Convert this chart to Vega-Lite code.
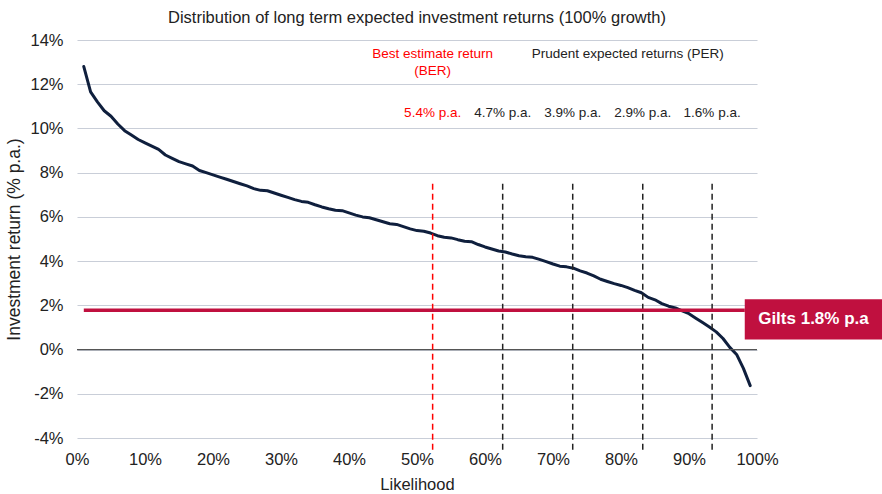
{
  "$schema": "https://vega.github.io/schema/vega-lite/v6.json",
  "width": 680,
  "height": 398,
  "autosize": "none",
  "padding": {"left": 77, "top": 40, "right": 125, "bottom": 56},
  "background": "white",
  "config": {
    "view": {"stroke": null},
    "font": "Liberation Sans",
    "axis": {"labelFont": "Liberation Sans", "titleFont": "Liberation Sans", "labelColor": "#222222", "titleColor": "#222222", "labelFontSize": 16.5, "titleFontSize": 16.5, "titleFontWeight": "normal", "domain": false, "ticks": false}
  },
  "title": {"text": "Distribution of long term expected investment returns (100% growth)", "fontSize": 16.5, "fontWeight": "normal", "color": "#222222", "anchor": "middle", "offset": 6, "font": "Liberation Sans"},
  "layer": [
    {
      "data": {"values": [
        {"likelihood": 1, "ret": 12.8}, {"likelihood": 2, "ret": 11.65}, {"likelihood": 3, "ret": 11.2}, {"likelihood": 4, "ret": 10.8}, {"likelihood": 5, "ret": 10.55},
        {"likelihood": 6, "ret": 10.2}, {"likelihood": 7, "ret": 9.9}, {"likelihood": 8, "ret": 9.7}, {"likelihood": 9, "ret": 9.5}, {"likelihood": 10, "ret": 9.35},
        {"likelihood": 11, "ret": 9.2}, {"likelihood": 12, "ret": 9.05}, {"likelihood": 13, "ret": 8.8}, {"likelihood": 14, "ret": 8.65}, {"likelihood": 15, "ret": 8.5},
        {"likelihood": 16, "ret": 8.4}, {"likelihood": 17, "ret": 8.3}, {"likelihood": 18, "ret": 8.1}, {"likelihood": 19, "ret": 8.0}, {"likelihood": 20, "ret": 7.9},
        {"likelihood": 21, "ret": 7.8}, {"likelihood": 22, "ret": 7.7}, {"likelihood": 23, "ret": 7.6}, {"likelihood": 24, "ret": 7.5}, {"likelihood": 25, "ret": 7.4},
        {"likelihood": 26, "ret": 7.28}, {"likelihood": 27, "ret": 7.2}, {"likelihood": 28, "ret": 7.18}, {"likelihood": 29, "ret": 7.08}, {"likelihood": 30, "ret": 6.98},
        {"likelihood": 31, "ret": 6.88}, {"likelihood": 32, "ret": 6.78}, {"likelihood": 33, "ret": 6.7}, {"likelihood": 34, "ret": 6.66}, {"likelihood": 35, "ret": 6.55},
        {"likelihood": 36, "ret": 6.45}, {"likelihood": 37, "ret": 6.37}, {"likelihood": 38, "ret": 6.3}, {"likelihood": 39, "ret": 6.28}, {"likelihood": 40, "ret": 6.18},
        {"likelihood": 41, "ret": 6.08}, {"likelihood": 42, "ret": 6.0}, {"likelihood": 43, "ret": 5.96}, {"likelihood": 44, "ret": 5.87}, {"likelihood": 45, "ret": 5.78},
        {"likelihood": 46, "ret": 5.69}, {"likelihood": 47, "ret": 5.66}, {"likelihood": 48, "ret": 5.56}, {"likelihood": 49, "ret": 5.46}, {"likelihood": 50, "ret": 5.38},
        {"likelihood": 51, "ret": 5.35}, {"likelihood": 52, "ret": 5.27}, {"likelihood": 53, "ret": 5.15}, {"likelihood": 54, "ret": 5.08}, {"likelihood": 55, "ret": 5.05},
        {"likelihood": 56, "ret": 4.97}, {"likelihood": 57, "ret": 4.9}, {"likelihood": 58, "ret": 4.88}, {"likelihood": 59, "ret": 4.75}, {"likelihood": 60, "ret": 4.64},
        {"likelihood": 61, "ret": 4.55}, {"likelihood": 62, "ret": 4.46}, {"likelihood": 63, "ret": 4.41}, {"likelihood": 64, "ret": 4.32}, {"likelihood": 65, "ret": 4.24},
        {"likelihood": 66, "ret": 4.2}, {"likelihood": 67, "ret": 4.17}, {"likelihood": 68, "ret": 4.08}, {"likelihood": 69, "ret": 3.98}, {"likelihood": 70, "ret": 3.87},
        {"likelihood": 71, "ret": 3.77}, {"likelihood": 72, "ret": 3.74}, {"likelihood": 73, "ret": 3.68}, {"likelihood": 74, "ret": 3.56}, {"likelihood": 75, "ret": 3.46},
        {"likelihood": 76, "ret": 3.33}, {"likelihood": 77, "ret": 3.18}, {"likelihood": 78, "ret": 3.08}, {"likelihood": 79, "ret": 2.98}, {"likelihood": 80, "ret": 2.9},
        {"likelihood": 81, "ret": 2.8}, {"likelihood": 82, "ret": 2.68}, {"likelihood": 83, "ret": 2.57}, {"likelihood": 84, "ret": 2.36}, {"likelihood": 85, "ret": 2.25},
        {"likelihood": 86, "ret": 2.08}, {"likelihood": 87, "ret": 1.96}, {"likelihood": 88, "ret": 1.88}, {"likelihood": 89, "ret": 1.75}, {"likelihood": 90, "ret": 1.62},
        {"likelihood": 91, "ret": 1.42}, {"likelihood": 92, "ret": 1.22}, {"likelihood": 93, "ret": 1.02}, {"likelihood": 94, "ret": 0.8}, {"likelihood": 95, "ret": 0.5},
        {"likelihood": 96, "ret": 0.1}, {"likelihood": 97, "ret": -0.22}, {"likelihood": 98, "ret": -0.85}, {"likelihood": 99, "ret": -1.63}
      ]},
      "mark": {"type": "line", "color": "#0F1F3D", "strokeWidth": 3, "strokeJoin": "round", "strokeCap": "round"},
      "encoding": {
        "x": {"field": "likelihood", "type": "quantitative", "scale": {"domain": [0, 100], "nice": false},
          "axis": {"title": "Likelihood", "values": [0,10,20,30,40,50,60,70,80,90,100], "labelExpr": "datum.value + '%'", "grid": false, "labelPadding": 13, "titlePadding": 9, "labelFlush": false}},
        "y": {"field": "ret", "type": "quantitative", "scale": {"domain": [-4, 14], "nice": false, "zero": false},
          "axis": {"title": "Investment return (% p.a.)", "titleFontSize": 17.5, "values": [-4,-2,0,2,4,6,8,10,12,14], "labelExpr": "datum.value + '%'", "grid": true, "gridColor": "#C9CED8", "gridWidth": 1.2, "labelPadding": 14, "titlePadding": 6}}
      }
    },
    {
      "data": {"values": [{"y": 0}]},
      "mark": {"type": "rule", "color": "#555555", "strokeWidth": 1.2},
      "encoding": {"y": {"field": "y", "type": "quantitative"}}
    },
    {
      "data": {"values": [
        {"x": 52.3, "kind": "BER"}, {"x": 62.6, "kind": "PER"}, {"x": 72.9, "kind": "PER"}, {"x": 83.2, "kind": "PER"}, {"x": 93.4, "kind": "PER"}
      ]},
      "mark": {"type": "rule", "strokeDash": [6, 4], "strokeWidth": 1.5},
      "encoding": {
        "x": {"field": "x", "type": "quantitative"},
        "y": {"datum": 7.5, "type": "quantitative"},
        "y2": {"datum": -4.55},
        "color": {"field": "kind", "type": "nominal", "scale": {"domain": ["BER", "PER"], "range": ["#FF0000", "#222222"]}, "legend": null}
      }
    },
    {
      "data": {"values": [{"x1": 1, "x2": 98.2, "y": 1.78}]},
      "mark": {"type": "rule", "color": "#C0103F", "strokeWidth": 3.5},
      "encoding": {
        "x": {"field": "x1", "type": "quantitative"},
        "x2": {"field": "x2"},
        "y": {"field": "y", "type": "quantitative"}
      }
    },
    {
      "data": {"values": [{"x1": 98.2, "x2": 118.5, "y1": 0.45, "y2": 2.27}]},
      "mark": {"type": "rect", "color": "#C0103F"},
      "encoding": {
        "x": {"field": "x1", "type": "quantitative"},
        "x2": {"field": "x2"},
        "y": {"field": "y1", "type": "quantitative"},
        "y2": {"field": "y2"}
      }
    },
    {
      "data": {"values": [{"x": 108.3, "y": 1.36, "label": "Gilts 1.8% p.a"}]},
      "mark": {"type": "text", "color": "white", "fontSize": 17, "fontWeight": "bold", "align": "center", "baseline": "middle"},
      "encoding": {
        "x": {"field": "x", "type": "quantitative"},
        "y": {"field": "y", "type": "quantitative"},
        "text": {"field": "label"}
      }
    },
    {
      "data": {"values": [
        {"x": 52.3, "y": 13.35, "label": "Best estimate return", "kind": "BER"},
        {"x": 52.3, "y": 12.62, "label": "(BER)", "kind": "BER"},
        {"x": 81.0, "y": 13.35, "label": "Prudent expected returns (PER)", "kind": "PER"},
        {"x": 52.3, "y": 10.68, "label": "5.4% p.a.", "kind": "BER"},
        {"x": 62.6, "y": 10.68, "label": "4.7% p.a.", "kind": "PER"},
        {"x": 72.9, "y": 10.68, "label": "3.9% p.a.", "kind": "PER"},
        {"x": 83.2, "y": 10.68, "label": "2.9% p.a.", "kind": "PER"},
        {"x": 93.4, "y": 10.68, "label": "1.6% p.a.", "kind": "PER"}
      ]},
      "mark": {"type": "text", "fontSize": 13.5, "align": "center", "baseline": "middle", "font": "Liberation Sans"},
      "encoding": {
        "x": {"field": "x", "type": "quantitative"},
        "y": {"field": "y", "type": "quantitative"},
        "text": {"field": "label"},
        "color": {"field": "kind", "type": "nominal", "scale": {"domain": ["BER", "PER"], "range": ["#FF0000", "#222222"]}, "legend": null}
      }
    }
  ]
}
